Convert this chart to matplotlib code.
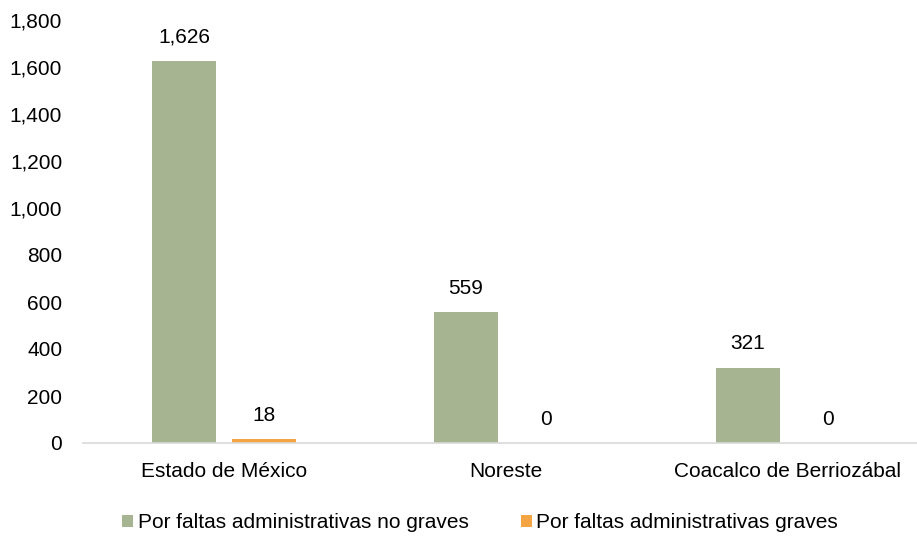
import matplotlib.pyplot as plt
import numpy as np

categories = ["Estado de México", "Noreste", "Coacalco de Berriozábal"]
no_graves = [1626, 559, 321]
graves = [18, 0, 0]
series_names = ["Por faltas administrativas no graves",
                "Por faltas administrativas graves"]
yticks = [0, 200, 400, 600, 800, 1000, 1200, 1400, 1600, 1800]

plt.rcParams['font.family'] = ['Liberation Sans', 'DejaVu Sans']

green = "#A6B491"
orange = "#F4A443"
fs = 15


def plot_chart():
    fig = plt.figure(figsize=(9.17, 5.42), dpi=100)
    # axes from x=83px to 929px, y from 443px (0) to 20px (1800)
    ax = fig.add_axes([83 / 917, (542 - 443) / 542, 846 / 917, 423 / 542])

    x = np.arange(len(categories))
    w = 0.224
    off = 0.142
    b1 = ax.bar(x - off, no_graves, w, color=green, label=series_names[0])
    b2 = ax.bar(x + off, graves, w, color=orange, label=series_names[1])

    # data labels
    for bars in (b1, b2):
        for rect in bars:
            v = rect.get_height()
            ax.text(rect.get_x() + rect.get_width() / 2, v + 60, f"{v:,.0f}",
                    ha="center", va="bottom", fontsize=fs)

    ax.set_xlim(-0.5, len(categories) - 0.5)
    ax.set_ylim(0, 1800)
    ax.set_yticks(yticks)
    ax.set_yticklabels([f"{t:,}" for t in yticks], fontsize=fs)
    ax.set_xticks(x)
    ax.set_xticklabels(categories, fontsize=fs)
    ax.tick_params(axis="both", length=0)
    ax.tick_params(axis="y", pad=15)
    ax.tick_params(axis="x", pad=14)

    for s in ["top", "right", "left"]:
        ax.spines[s].set_visible(False)
    ax.spines["bottom"].set_color("#D9D9D9")
    ax.spines["bottom"].set_linewidth(1.2)

    fig.legend(loc="center", bbox_to_anchor=(480 / 917, 1 - 523 / 542), ncol=2,
               frameon=False, fontsize=fs, handlelength=0.55, handleheight=0.55,
               handletextpad=0.2, columnspacing=2.5)

    fig.savefig("out.png", dpi=100)


if __name__ == "__main__":
    plot_chart()
